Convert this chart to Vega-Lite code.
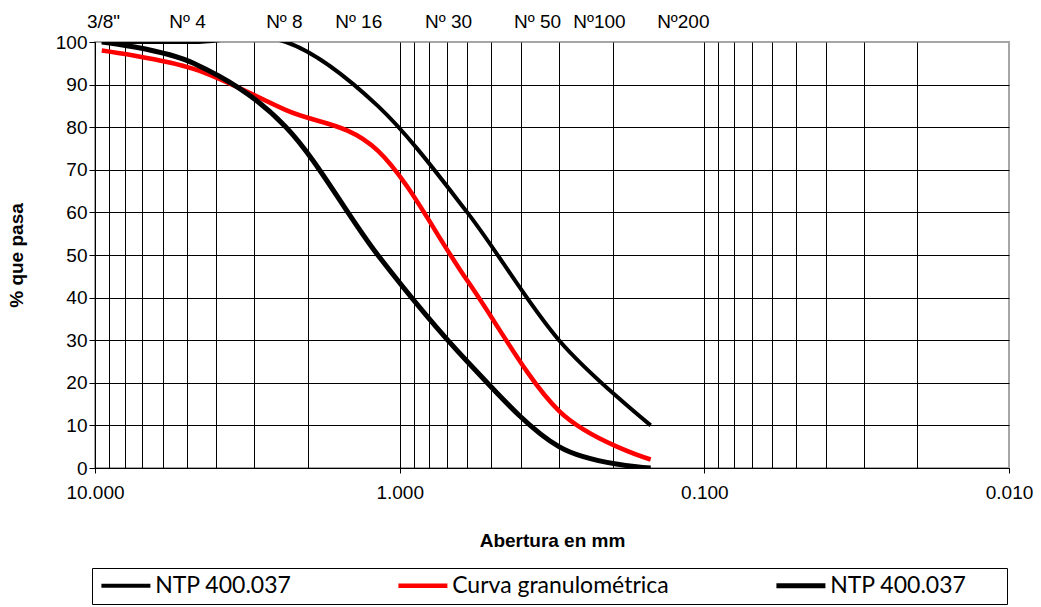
{
  "$schema": "https://vega.github.io/schema/vega-lite/v6.json",
  "width": 914,
  "height": 426,
  "autosize": "none",
  "padding": {"left": 95, "top": 42, "right": 32, "bottom": 139},
  "background": "white",
  "config": {
    "font": "Liberation Sans",
    "view": {"stroke": "#a6a6a6", "strokeWidth": 2},
    "axis": {"labelColor": "black", "titleColor": "black", "domainColor": "black", "tickColor": "black", "gridColor": "black", "gridOpacity": 1, "gridWidth": 1}
  },
  "datasets": {
    "curvas": [
      {"abertura": 9.5, "pasa": 100, "serie": "sup"},
      {"abertura": 4.75, "pasa": 100, "serie": "sup"},
      {"abertura": 2.36, "pasa": 100, "serie": "sup"},
      {"abertura": 1.18, "pasa": 85, "serie": "sup"},
      {"abertura": 0.6, "pasa": 60, "serie": "sup"},
      {"abertura": 0.3, "pasa": 30, "serie": "sup"},
      {"abertura": 0.15, "pasa": 10, "serie": "sup"},
      {"abertura": 9.5, "pasa": 98, "serie": "curva"},
      {"abertura": 4.75, "pasa": 93.7, "serie": "curva"},
      {"abertura": 2.36, "pasa": 84, "serie": "curva"},
      {"abertura": 1.18, "pasa": 74.5, "serie": "curva"},
      {"abertura": 0.6, "pasa": 44, "serie": "curva"},
      {"abertura": 0.3, "pasa": 13.4, "serie": "curva"},
      {"abertura": 0.15, "pasa": 2, "serie": "curva"},
      {"abertura": 9.5, "pasa": 100, "serie": "inf"},
      {"abertura": 4.75, "pasa": 95, "serie": "inf"},
      {"abertura": 2.36, "pasa": 80, "serie": "inf"},
      {"abertura": 1.18, "pasa": 50, "serie": "inf"},
      {"abertura": 0.6, "pasa": 25, "serie": "inf"},
      {"abertura": 0.3, "pasa": 5, "serie": "inf"},
      {"abertura": 0.15, "pasa": 0, "serie": "inf"}
    ],
    "tamices": [
      {"pos": 9.38, "tamiz": "3/8\""},
      {"pos": 4.97, "tamiz": "Nº 4"},
      {"pos": 2.39, "tamiz": "Nº 8"},
      {"pos": 1.363, "tamiz": "Nº 16"},
      {"pos": 0.691, "tamiz": "Nº 30"},
      {"pos": 0.3528, "tamiz": "Nº 50"},
      {"pos": 0.2209, "tamiz": "Nº100"},
      {"pos": 0.1172, "tamiz": "Nº200"}
    ]
  },
  "layer": [
    {
      "data": {"name": "curvas"},
      "mark": {"type": "line", "interpolate": "cardinal", "tension": 0, "clip": true},
      "encoding": {
        "x": {
          "field": "abertura", "type": "quantitative",
          "scale": {"type": "log", "domain": [0.01, 10], "reverse": true, "nice": false},
          "axis": {
            "values": [0.01,0.02,0.03,0.04,0.05,0.06,0.07,0.08,0.09,0.1,0.2,0.3,0.4,0.5,0.6,0.7,0.8,0.9,1,2,3,4,5,6,7,8,9,10],
            "labelExpr": "indexof([10,1,0.1,0.01], datum.value) >= 0 ? format(datum.value, '.3f') : ''",
            "grid": true,
            "gridOpacity": {"condition": {"test": "datum.value == 0.01", "value": 0}, "value": 1},
            "tickOpacity": {"condition": {"test": "indexof([10,1,0.1,0.01], datum.value) >= 0", "value": 1}, "value": 0},
            "tickSize": 5,
            "labelFontSize": 19,
            "labelPadding": 10,
            "labelFlush": false,
            "labelOverlap": false,
            "title": "Abertura en mm",
            "titleFontSize": 19,
            "titleFontWeight": "bold",
            "titlePadding": 29
          }
        },
        "y": {
          "field": "pasa", "type": "quantitative",
          "scale": {"domain": [0, 100], "nice": false},
          "axis": {
            "values": [0,10,20,30,40,50,60,70,80,90,100],
            "grid": true,
            "gridOpacity": {"condition": {"test": "datum.value == 100", "value": 0}, "value": 1},
            "tickSize": 6,
            "labelFontSize": 19,
            "labelPadding": 2,
            "title": "% que pasa",
            "titleFontSize": 19,
            "titleFontWeight": "bold",
            "titlePadding": 29
          }
        },
        "color": {
          "field": "serie", "type": "nominal",
          "scale": {"domain": ["sup", "curva", "inf"], "range": ["black", "#ff0000", "black"]},
          "legend": {
            "orient": "none",
            "legendX": -3,
            "legendY": 526,
            "direction": "horizontal",
            "columns": 3,
            "title": null,
            "symbolType": "M-4,0H4",
            "symbolSize": 150,
            "symbolOffset": 16.4,
            "symbolStrokeWidth": 5,
            "labelFont": "Lato",
            "labelFontSize": 23,
            "labelColor": "black",
            "labelOffset": 17.75,
            "labelLimit": 500,
            "columnPadding": 97,
            "padding": 6,
            "strokeColor": "black",
            "fillColor": "white",
            "labelExpr": "datum.label == 'curva' ? 'Curva granulométrica' : (datum.label == 'inf' ? 'NTP 400.037\u2800\u2800' : 'NTP 400.037')"
          }
        },
        "strokeWidth": {
          "field": "serie", "type": "nominal",
          "scale": {"domain": ["sup", "curva", "inf"], "range": [4, 5, 4]},
          "legend": null
        }
      }
    },
    {
      "data": {"name": "tamices"},
      "mark": {"type": "text", "fontSize": 19, "baseline": "middle", "align": "center", "dy": -20, "color": "black"},
      "encoding": {
        "x": {"field": "pos", "type": "quantitative"},
        "y": {"datum": 100},
        "text": {"field": "tamiz"}
      }
    }
  ]
}
